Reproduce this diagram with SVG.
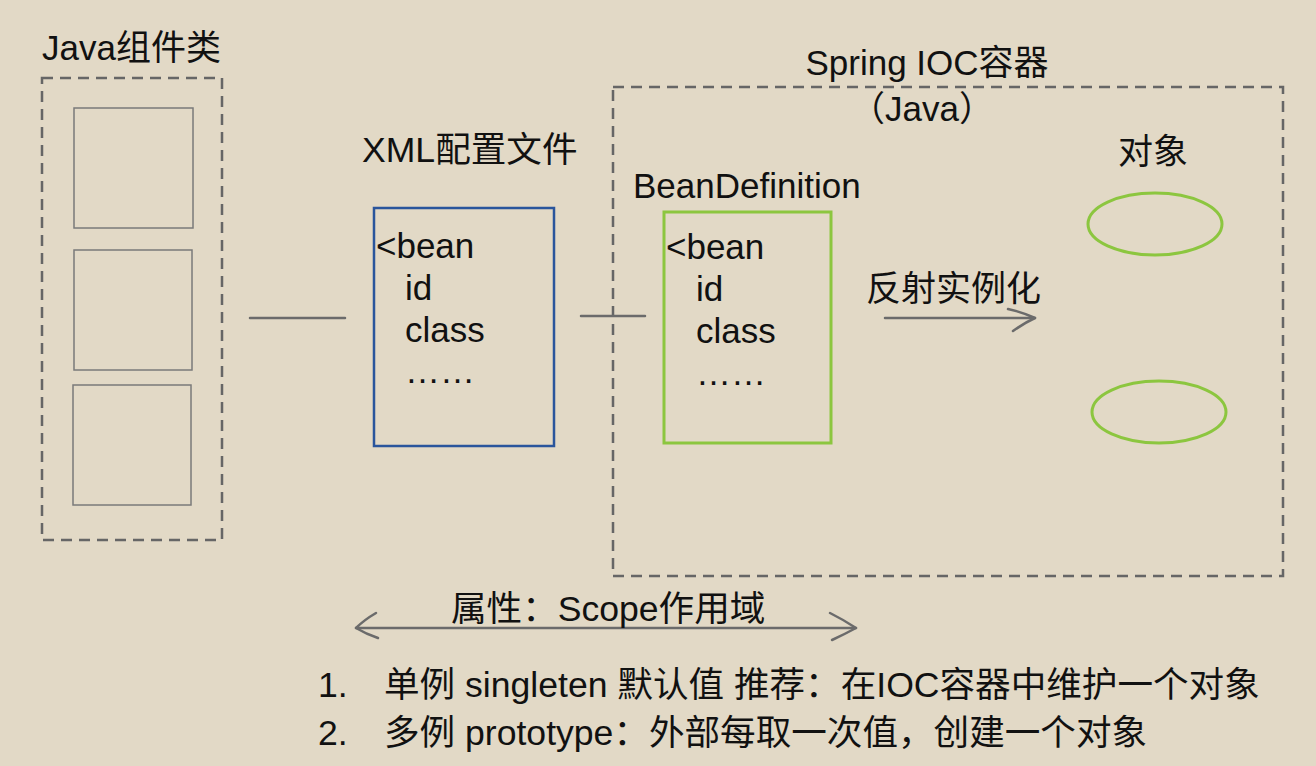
<svg xmlns="http://www.w3.org/2000/svg" width="1316" height="766" viewBox="0 0 1316 766">
<defs>
<style>
text{font-family:"Liberation Sans","Noto Sans CJK SC",sans-serif;font-size:35px;fill:#111}
.big{font-size:35.6px}
.dash{fill:none;stroke:#666;stroke-width:2.5;stroke-dasharray:11 7}
.cls{fill:none;stroke:#7a7a7a;stroke-width:1.5}
.line{fill:none;stroke:#6b6b6b;stroke-width:2.5;stroke-linecap:round;stroke-linejoin:round}
.green{fill:none;stroke:#8cc63f;stroke-width:3}
</style>
</defs>
<rect width="1316" height="766" fill="#e2d9c6"/>

<g id="java-classes">
<text x="42" y="60">Java组件类</text>
<rect class="dash" x="42" y="78" width="180" height="462"/>
<rect class="cls" x="74" y="108" width="119" height="120"/>
<rect class="cls" x="74" y="250" width="118" height="120"/>
<rect class="cls" x="73" y="385" width="118" height="120"/>
</g>

<g id="xml-config">
<text x="362" y="162" class="big">XML配置文件</text>
<rect x="374" y="208" width="180" height="238" fill="none" stroke="#2a559c" stroke-width="2.5"/>
<text x="376" y="258">&lt;bean</text>
<text x="405" y="300">id</text>
<text x="405" y="342">class</text>
<text x="405" y="383">……</text>
</g>

<g id="ioc-container">
<text x="927" y="75" text-anchor="middle">Spring IOC容器</text>
<rect class="dash" x="613" y="87" width="670" height="489"/>
<text x="922" y="121" text-anchor="middle">（Java）</text>
</g>

<g id="bean-definition">
<text x="633" y="198">BeanDefinition</text>
<rect class="green" x="664" y="212" width="167" height="231"/>
<text x="666" y="259">&lt;bean</text>
<text x="696" y="301">id</text>
<text x="696" y="343">class</text>
<text x="696" y="385">……</text>
</g>

<g id="objects">
<text x="1118" y="164">对象</text>
<ellipse class="green" cx="1155" cy="224" rx="67" ry="31"/>
<ellipse class="green" cx="1159" cy="412" rx="67" ry="31"/>
</g>

<g id="connectors">
<line class="line" x1="250" y1="318" x2="345" y2="318"/>
<line class="line" x1="581" y1="316" x2="645" y2="316"/>
<text x="866" y="301">反射实例化</text>
<line class="line" x1="885" y1="318" x2="1035" y2="318"/>
<path class="line" d="M1008 309 Q1022 312 1035 318 Q1024 323 1013 331"/>
<line class="line" x1="356" y1="628" x2="856" y2="628"/>
<path class="line" d="M376 613 Q364 620 356 628 Q366 634 378 638"/>
<path class="line" d="M830 613 Q844 620 856 628 Q845 634 832 640"/>
</g>

<g id="scope-notes">
<text x="451" y="621" class="big">属性：Scope作用域</text>
<text x="318" y="697" class="big">1.</text>
<text x="384" y="697" class="big">单例 singleten 默认值 推荐：在IOC容器中维护一个对象</text>
<text x="318" y="745" class="big">2.</text>
<text x="384" y="745" class="big">多例 prototype：外部每取一次值，创建一个对象</text>
</g>
</svg>
